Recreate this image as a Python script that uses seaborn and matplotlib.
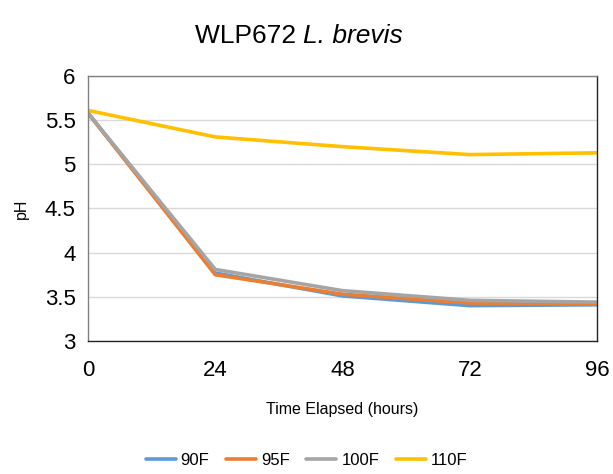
import numpy as np
import pandas as pd
import matplotlib
matplotlib.use("Agg")
import matplotlib.pyplot as plt
import seaborn as sns

# valores
hours = [0, 24, 48, 72, 96]
ph_90 = [5.58, 3.77, 3.51, 3.40, 3.41]
ph_95 = [5.58, 3.75, 3.53, 3.43, 3.42]
ph_100 = [5.58, 3.81, 3.57, 3.46, 3.44]
ph_110 = [5.61, 5.31, 5.20, 5.11, 5.13]
series = ["90F", "95F", "100F", "110F"]
colores = ["#5B9BD5", "#ED7D31", "#A5A5A5", "#FFC000"]

df = pd.DataFrame({
    "hours": hours * 4,
    "pH": ph_90 + ph_95 + ph_100 + ph_110,
    "temp": [s for s in series for _ in hours],
})

sns.set_style("white")
plt.rcParams["font.family"] = ["Liberation Sans", "DejaVu Sans"]
plt.rcParams["text.color"] = "black"
plt.rcParams["axes.labelcolor"] = "black"
plt.rcParams["xtick.color"] = "black"
plt.rcParams["ytick.color"] = "black"

fig = plt.figure(figsize=(6.13, 4.74), dpi=100)
ax = fig.add_axes([0.1436, 0.2806, 0.8304, 0.5591])

sns.lineplot(data=df, x="hours", y="pH", hue="temp", hue_order=series,
             palette=colores, linewidth=2.6, ax=ax, legend=False)

ax.set_xlim(0, 96)
ax.set_ylim(3, 6)
ax.set_xticks(hours)
ax.set_yticks(np.arange(3, 6.01, 0.5))
ax.set_yticklabels(["3", "3.5", "4", "4.5", "5", "5.5", "6"])
ax.yaxis.grid(True, color="#D9D9D9", linewidth=1)
ax.set_axisbelow(True)
ax.tick_params(axis="both", labelsize=16, length=0)
ax.tick_params(axis="x", pad=14)
ax.tick_params(axis="y", pad=9)
for lado in ["left", "top"]:
    ax.spines[lado].set_color("#808080")
for lado in ["right", "bottom"]:
    ax.spines[lado].set_color("#262626")
for sp in ax.spines.values():
    sp.set_linewidth(1)

ax.set_xlabel("Time Elapsed (hours)", fontsize=11.5, labelpad=15)
ax.set_ylabel("pH", fontsize=11.5, labelpad=11)

# título con la parte en cursiva
t1 = fig.text(0.318, 0.925, "WLP672 ", ha="left", va="center", fontsize=19)
ax.annotate("L. brevis", xy=(1, 0.5), xycoords=t1, ha="left", va="center",
            fontsize=19, style="italic")

handles = [plt.Line2D([], [], color=c, linewidth=2.6) for c in colores]
fig.legend(handles, series, loc="center", bbox_to_anchor=(0.5, 0.028), ncol=4,
           frameon=False, fontsize=12, handlelength=1.8, columnspacing=1.0,
           handletextpad=0.3)

fig.savefig("out.png", dpi=100)
